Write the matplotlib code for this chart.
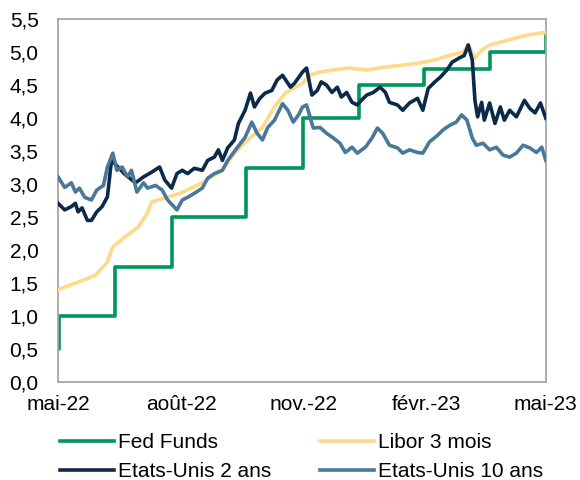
import pandas as pd
import matplotlib
matplotlib.use("Agg")
import matplotlib.pyplot as plt

plt.rcParams['font.family'] = ['Liberation Sans', 'DejaVu Sans']

start = pd.Timestamp("2022-05-04")

# Fed Funds (borne haute), dates d'effet
fed_dates = ["2022-05-04", "2022-05-05", "2022-06-16", "2022-07-28", "2022-09-22",
             "2022-11-03", "2022-12-15", "2023-02-02", "2023-03-23", "2023-05-04"]
fed_vals = [0.50, 1.00, 1.75, 2.50, 3.25, 4.00, 4.50, 4.75, 5.00, 5.25]

# Libor 3 mois (jours depuis le 4 mai 2022)
libor_days = [0, 13, 28, 37, 41, 50, 60, 67, 70, 80, 91, 108, 123, 132, 142,
              153, 162, 170, 183, 188, 196, 206, 218, 231, 243, 256, 269, 281,
              293, 303, 307, 312, 317, 323, 336, 351, 365]
libor_vals = [1.40, 1.50, 1.62, 1.82, 2.05, 2.20, 2.35, 2.56, 2.73, 2.79, 2.86,
              3.02, 3.21, 3.47, 3.67, 3.86, 4.17, 4.38, 4.53, 4.65, 4.70, 4.73,
              4.76, 4.73, 4.77, 4.80, 4.83, 4.88, 4.95, 5.00, 5.11, 4.91, 5.03,
              5.11, 5.18, 5.26, 5.30]

# Etats-Unis 2 ans
us2_days = [0, 5, 10, 13, 15, 18, 22, 25, 29, 33, 37, 40, 44, 50, 58, 64, 70, 76,
            80, 85, 89, 93, 97, 102, 108, 112, 117, 120, 123, 127, 132, 135, 140,
            144, 147, 151, 155, 160, 164, 168, 174, 177, 183, 186, 190, 194, 197,
            201, 205, 209, 212, 216, 220, 224, 227, 231, 236, 241, 245, 248, 254,
            258, 263, 269, 273, 277, 282, 286, 291, 295, 301, 304, 307, 310, 312,
            314, 317, 319, 323, 327, 331, 334, 338, 343, 349, 353, 357, 361, 365]
us2_vals = [2.71, 2.61, 2.66, 2.71, 2.58, 2.64, 2.45, 2.45, 2.58, 2.66, 2.81, 3.36,
            3.28, 3.15, 3.02, 3.11, 3.18, 3.26, 3.06, 2.94, 3.16, 3.21, 3.16, 3.24,
            3.21, 3.36, 3.41, 3.52, 3.36, 3.55, 3.67, 3.92, 4.12, 4.38, 4.17, 4.30,
            4.38, 4.42, 4.58, 4.65, 4.47, 4.53, 4.70, 4.76, 4.35, 4.42, 4.55, 4.50,
            4.39, 4.47, 4.32, 4.39, 4.24, 4.20, 4.27, 4.35, 4.39, 4.47, 4.39, 4.24,
            4.20, 4.12, 4.23, 4.30, 4.12, 4.45, 4.55, 4.62, 4.73, 4.85, 4.92, 4.95,
            5.11, 4.88, 4.27, 4.02, 4.24, 3.97, 4.23, 3.92, 4.17, 3.97, 4.12, 4.02,
            4.27, 4.15, 4.08, 4.23, 4.00]

# Etats-Unis 10 ans
us10_days = [0, 5, 10, 13, 16, 20, 25, 29, 34, 37, 41, 44, 48, 52, 55, 59, 64, 67,
             73, 78, 82, 89, 93, 97, 102, 108, 112, 117, 123, 127, 134, 140, 145,
             149, 153, 157, 162, 168, 172, 176, 180, 183, 186, 191, 196, 201, 206,
             211, 215, 220, 224, 230, 235, 239, 243, 248, 254, 258, 263, 269, 273,
             278, 284, 288, 293, 298, 302, 306, 310, 313, 318, 323, 328, 333, 338,
             343, 348, 353, 358, 362, 365]
us10_vals = [3.11, 2.95, 3.02, 2.88, 2.94, 2.80, 2.76, 2.91, 2.98, 3.26, 3.47, 3.21,
             3.26, 3.11, 3.21, 2.88, 3.02, 2.94, 2.98, 2.91, 2.76, 2.61, 2.76, 2.80,
             2.86, 2.94, 3.09, 3.16, 3.21, 3.36, 3.55, 3.71, 3.94, 3.77, 3.67, 3.86,
             3.97, 4.22, 4.12, 3.94, 4.05, 4.17, 4.20, 3.85, 3.86, 3.77, 3.70, 3.62,
             3.48, 3.56, 3.47, 3.56, 3.70, 3.85, 3.77, 3.59, 3.55, 3.47, 3.52, 3.48,
             3.47, 3.64, 3.74, 3.82, 3.89, 3.94, 4.05, 3.97, 3.70, 3.59, 3.62, 3.52,
             3.56, 3.44, 3.41, 3.47, 3.59, 3.55, 3.48, 3.56, 3.36]

tick_dates = ["2022-05-04", "2022-08-04", "2022-11-04", "2023-02-04", "2023-05-04"]
tick_labels = ["mai-22", "août-22", "nov.-22", "févr.-23", "mai-23"]


def to_dates(days):
    return start + pd.to_timedelta(days, unit='D')


fig = plt.figure(figsize=(5.8, 4.8), dpi=100)
ax = fig.add_axes([0.1, 0.204, 0.841, 0.756])

lw = 2.6
h_fed, = ax.plot(pd.to_datetime(fed_dates), fed_vals, drawstyle='steps-post',
                 color='#00965a', lw=lw, label='Fed Funds', zorder=2)
h_lib, = ax.plot(to_dates(libor_days), libor_vals, color='#ffd98a', lw=lw,
                 label='Libor 3 mois', zorder=3, solid_joinstyle='round')
h_2y, = ax.plot(to_dates(us2_days), us2_vals, color='#0b2948', lw=lw,
                label='Etats-Unis 2 ans', zorder=4, solid_joinstyle='round')
h_10y, = ax.plot(to_dates(us10_days), us10_vals, color='#4a7899', lw=lw,
                 label='Etats-Unis 10 ans', zorder=5, solid_joinstyle='round')

ax.set_xlim(start, pd.Timestamp("2023-05-04"))
ax.set_ylim(0, 5.5)
yt = [i * 0.5 for i in range(12)]
ax.set_yticks(yt)
ax.set_yticklabels([f"{v:.1f}".replace('.', ',') for v in yt])
ax.set_xticks(pd.to_datetime(tick_dates))
ax.set_xticklabels(tick_labels)
ax.tick_params(axis='both', length=0, labelsize=15, colors='#000000')
ax.tick_params(axis='y', pad=14)
ax.tick_params(axis='x', pad=9)
for s in ax.spines.values():
    s.set_color('#a6a6a6')
    s.set_linewidth(1.3)

# ordre par lignes : Fed / Libor puis 2 ans / 10 ans
fig.legend(handles=[h_fed, h_2y, h_lib, h_10y], loc='upper center',
           bbox_to_anchor=(0.52, 0.098), ncol=2, frameon=False,
           fontsize=15, handlelength=2.6, handletextpad=0.2, columnspacing=2.3,
           labelspacing=0.5, borderpad=0, borderaxespad=0)

fig.savefig("out.png", dpi=100)
